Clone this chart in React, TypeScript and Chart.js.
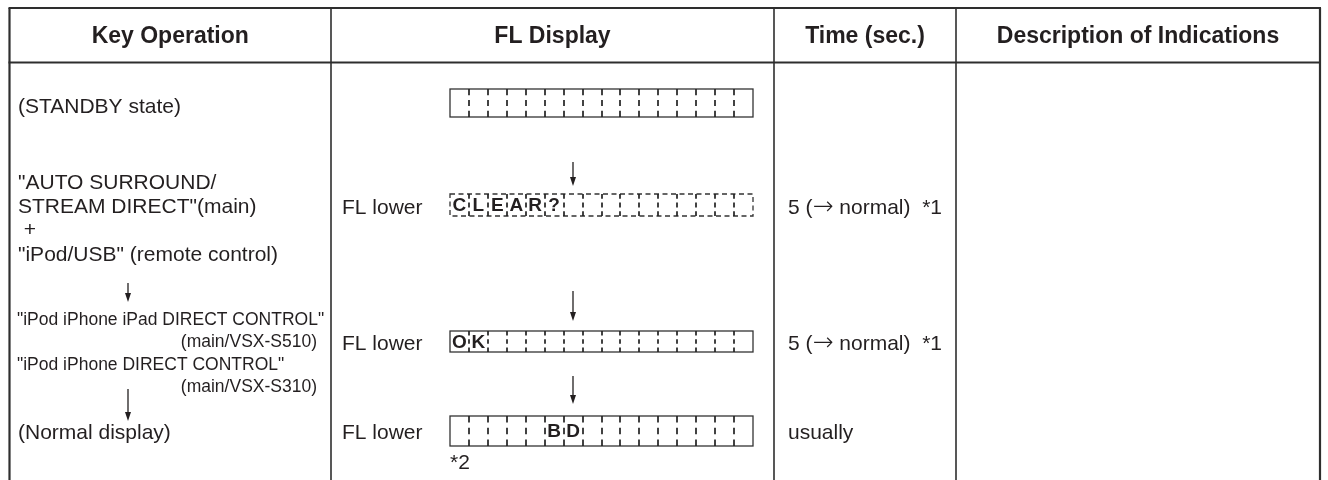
import React, { useEffect, useRef } from "react";
import { Chart, registerables } from "chart.js";

Chart.register(...registerables);

// ---------- data ----------
const headers = ["Key Operation", "FL Display", "Time (sec.)", "Description of Indications"];
const keyOperationLines = [
  "(STANDBY state)",
  "\"AUTO SURROUND/",
  "STREAM DIRECT\"(main)",
  " +",
  "\"iPod/USB\" (remote control)",
  "\"iPod iPhone iPad DIRECT CONTROL\"",
  "(main/VSX-S510)",
  "\"iPod iPhone DIRECT CONTROL\"",
  "(main/VSX-S310)",
  "(Normal display)",
];
const flLabels = ["", "FL lower", "FL lower", "FL lower"];
const flCells = [
  [] as string[],
  ["C", "L", "E", "A", "R", "?"],
  ["O", "K"],
  ["", "", "", "", "", "B", "D"],
];
const flCellCount = 16;
const times = ["", "5 (\u2192 normal)  *1", "5 (\u2192 normal)  *1", "usually"];
const footnote = "*2";

// ---------- layout (page pixel space) ----------
const W = 1328;
const H = 480;
const colX = [9.5, 331, 774, 956, 1320];
const tableTop = 8;
const headerBottom = 62.5;
const headerBaseline = 43;
// key operation lines: [x, baseline, size, align]
const keyLayout: [number, number, number, CanvasTextAlign][] = [
  [18, 112.5, 21, "left"],
  [18, 188.5, 21, "left"],
  [18, 212.5, 21, "left"],
  [18, 236, 21, "left"],
  [18, 261, 21, "left"],
  [17, 325, 17.5, "left"],
  [317, 347, 17.5, "right"],
  [17, 370, 17.5, "left"],
  [317, 392, 17.5, "right"],
  [18, 438.5, 21, "left"],
];
const keyArrows: [number, number, number][] = [
  [128, 283, 302],
  [128, 389, 421],
];
const boxX0 = 450;
const boxX1 = 753;
const boxRows: [number, number, boolean][] = [
  [89, 117, false],
  [194, 216, true],
  [331, 352, false],
  [416, 446, false],
];
const flLabelX = 342;
const rowBaselines = [112, 213.5, 349.5, 438.5];
const flArrows: [number, number, number][] = [
  [573, 162, 186],
  [573, 291, 321],
  [573, 376, 404],
];
const timeX = 788;
const footnotePos = [450, 469];

const INK = "#231f20";
const FONT = "'Liberation Sans', Arial, Helvetica, sans-serif";
const SYM_FONT = "'DejaVu Sans', sans-serif";

export default function App() {
  const ref = useRef<HTMLCanvasElement | null>(null);

  useEffect(() => {
    if (!ref.current) return;

    const tablePlugin = {
      id: "tablePlugin",
      afterDraw(chart: any) {
        const ctx: CanvasRenderingContext2D = chart.ctx;
        const sx = chart.scales.x;
        const sy = chart.scales.y;
        const X = (v: number) => sx.getPixelForValue(v);
        const Y = (v: number) => sy.getPixelForValue(v);

        ctx.save();
        ctx.fillStyle = "#ffffff";
        ctx.fillRect(0, 0, chart.width, chart.height);

        // table rules
        ctx.strokeStyle = "#2e2e2e";
        ctx.lineWidth = 2;
        ctx.beginPath();
        ctx.moveTo(X(colX[0]) - 1, Y(tableTop));
        ctx.lineTo(X(colX[4]) + 1, Y(tableTop));
        ctx.moveTo(X(colX[0]) - 1, Y(headerBottom));
        ctx.lineTo(X(colX[4]) + 1, Y(headerBottom));
        ctx.stroke();
        colX.forEach((cx, i) => {
          ctx.lineWidth = i === 0 || i === colX.length - 1 ? 2.2 : 1.6;
          ctx.beginPath();
          ctx.moveTo(X(cx), Y(tableTop));
          ctx.lineTo(X(cx), Y(H));
          ctx.stroke();
        });

        // headers
        ctx.fillStyle = INK;
        ctx.font = `bold 23px ${FONT}`;
        ctx.textAlign = "center";
        ctx.textBaseline = "alphabetic";
        headers.forEach((h, i) => {
          ctx.fillText(h, (X(colX[i]) + X(colX[i + 1])) / 2, Y(headerBaseline));
        });

        // key operation column
        keyOperationLines.forEach((t, i) => {
          const [x, b, s, a] = keyLayout[i];
          ctx.font = `${s}px ${FONT}`;
          ctx.textAlign = a;
          ctx.fillText(t, X(x), Y(b));
        });

        const arrow = (x: number, y0: number, y1: number) => {
          ctx.strokeStyle = INK;
          ctx.lineWidth = 1.3;
          ctx.beginPath();
          ctx.moveTo(X(x), Y(y0));
          ctx.lineTo(X(x), Y(y1) - 6);
          ctx.stroke();
          ctx.fillStyle = INK;
          ctx.beginPath();
          ctx.moveTo(X(x) - 3, Y(y1) - 9);
          ctx.lineTo(X(x) + 3, Y(y1) - 9);
          ctx.lineTo(X(x), Y(y1));
          ctx.closePath();
          ctx.fill();
        };
        keyArrows.forEach(([x, a, b]) => arrow(x, a, b));
        flArrows.forEach(([x, a, b]) => arrow(x, a, b));

        // FL display boxes
        const cw = (X(boxX1) - X(boxX0)) / flCellCount;
        boxRows.forEach(([t, b, dashed], r) => {
          const x0 = X(boxX0);
          const x1 = X(boxX1);
          const y0 = Y(t);
          const y1 = Y(b);
          const h = y1 - y0;
          ctx.strokeStyle = "#333333";
          ctx.lineWidth = 1.3;
          ctx.setLineDash(dashed ? [5, 3.5] : []);
          ctx.strokeRect(x0, y0, x1 - x0, h);
          ctx.setLineDash([]);
          ctx.lineWidth = 1.7;
          ctx.strokeStyle = "#222222";
          for (let c = 1; c < flCellCount; c++) {
            const dx = Math.round(x0 + c * cw);
            ctx.beginPath();
            ctx.moveTo(dx, y0);
            ctx.lineTo(dx, y0 + h * 0.22);
            ctx.moveTo(dx, y0 + h * 0.39);
            ctx.lineTo(dx, y0 + h * 0.61);
            ctx.moveTo(dx, y0 + h * 0.78);
            ctx.lineTo(dx, y1);
            ctx.stroke();
          }
          ctx.fillStyle = INK;
          ctx.font = `bold 19px ${FONT}`;
          ctx.textAlign = "center";
          ctx.textBaseline = "middle";
          flCells[r].forEach((ch, c) => {
            if (ch) ctx.fillText(ch, x0 + (c + 0.5) * cw, (y0 + y1) / 2 + 1);
          });
          ctx.textBaseline = "alphabetic";
        });

        // FL labels
        ctx.font = `21px ${FONT}`;
        ctx.textAlign = "left";
        ctx.fillStyle = INK;
        flLabels.forEach((t, i) => {
          if (t) ctx.fillText(t, X(flLabelX), Y(rowBaselines[i]));
        });

        // times: draw arrow glyph in a font that has a long thin arrow
        times.forEach((t, i) => {
          if (!t) return;
          const parts = t.split("\u2192");
          let x = X(timeX);
          const y = Y(rowBaselines[i]);
          parts.forEach((p, k) => {
            ctx.font = `21px ${FONT}`;
            ctx.fillText(p, x, y);
            x += ctx.measureText(p).width;
            if (k < parts.length - 1) {
              ctx.font = `200 25px ${SYM_FONT}`;
              ctx.fillText("\u2192", x, y);
              x += ctx.measureText("\u2192").width;
            }
          });
        });
        ctx.font = `21px ${FONT}`;
        ctx.fillText(footnote, X(footnotePos[0]), Y(footnotePos[1]));

        ctx.restore();
      },
    };

    const chart = new Chart(ref.current, {
      type: "scatter",
      data: { datasets: [] },
      options: {
        animation: false,
        responsive: true,
        maintainAspectRatio: false,
        layout: { padding: 0 },
        plugins: { legend: { display: false }, tooltip: { enabled: false } },
        scales: {
          x: { type: "linear", min: 0, max: W, display: false },
          y: { type: "linear", min: 0, max: H, reverse: true, display: false },
        },
      },
      plugins: [tablePlugin],
    });
    return () => chart.destroy();
  }, []);

  return (
    <div style={{ position: "fixed", left: 0, top: 0, width: W, height: H, background: "#fff" }}>
      <canvas ref={ref} />
    </div>
  );
}
